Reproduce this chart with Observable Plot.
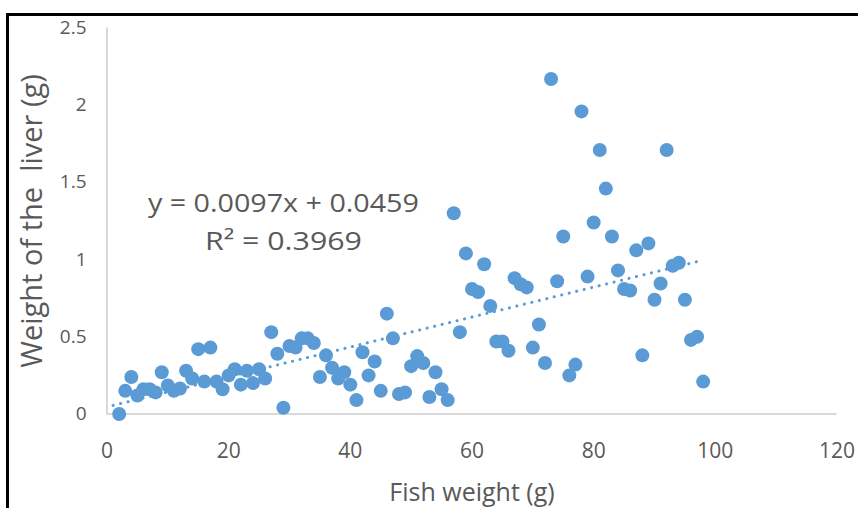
<!DOCTYPE html>
<html>
<head>
<meta charset="utf-8">
<script src="https://cdn.jsdelivr.net/npm/d3@7"></script>
<script src="https://cdn.jsdelivr.net/npm/@observablehq/plot@0.6"></script>
<style>
  html, body { margin: 0; padding: 0; background: #fff; overflow: hidden; }
  #wrap { position: relative; width: 858px; height: 508px; overflow: hidden; }
  #frame { position: absolute; left: 6px; top: 12.5px; width: 2000px; height: 2000px;
           border-left: 3px solid #000; border-top: 3px solid #000; pointer-events: none; }
  #chart { position: absolute; left: 0; top: 0; }
  svg text { font-family: "Open Sans", sans-serif; white-space: pre; }
  g[aria-label^="x-axis"] text { font-size: 21px; }
  g[aria-label^="y-axis"] text { font-size: 19px; }
</style>
</head>
<body>
<div id="wrap"><div id="chart"></div><div id="frame"></div></div>
<script>
// ---- data ----
const fishWeight = [
  2, 3, 4, 5, 6, 7, 8, 9, 10, 11, 12, 13, 14, 15, 16, 17, 18, 19, 20, 21,
  22, 23, 24, 25, 26, 27, 28, 29, 30, 31, 32, 33, 34, 35, 36, 37, 38, 39, 40, 41,
  42, 43, 44, 45, 46, 47, 48, 49, 50, 51, 52, 53, 54, 55, 56, 57, 58, 59, 60, 61,
  62, 63, 64, 65, 66, 67, 68, 69, 70, 71, 72, 73, 74, 75, 76, 77, 78, 79, 80, 81,
  82, 83, 84, 85, 86, 87, 88, 89, 90, 91, 92, 93, 94, 95, 96, 97, 98
];
const liverWeight = [
  0.00, 0.15, 0.24, 0.12, 0.16, 0.16, 0.14, 0.27, 0.185, 0.15, 0.165, 0.28, 0.23, 0.42, 0.21, 0.43, 0.21, 0.16, 0.25, 0.29,
  0.19, 0.28, 0.20, 0.29, 0.23, 0.53, 0.39, 0.04, 0.44, 0.43, 0.49, 0.49, 0.46, 0.24, 0.38, 0.30, 0.23, 0.27, 0.19, 0.09,
  0.40, 0.25, 0.34, 0.15, 0.65, 0.49, 0.13, 0.14, 0.31, 0.375, 0.33, 0.11, 0.27, 0.16, 0.09, 1.30, 0.53, 1.04, 0.81, 0.79,
  0.97, 0.70, 0.47, 0.47, 0.41, 0.88, 0.84, 0.82, 0.43, 0.58, 0.33, 2.17, 0.86, 1.15, 0.25, 0.32, 1.96, 0.89, 1.24, 1.71,
  1.46, 1.15, 0.93, 0.81, 0.80, 1.06, 0.38, 1.105, 0.74, 0.845, 1.71, 0.96, 0.98, 0.74, 0.48, 0.50, 0.21
];
const xTicks = [0, 20, 40, 60, 80, 100, 120];
const yTicks = [0, 0.5, 1, 1.5, 2, 2.5];
const trendSlope = 0.0097;
const trendIntercept = 0.0459;
const trendR2 = 0.3969;
const trendRange = [1, 98];
const xTitle = "Fish weight (g)";
const yTitle = "Weight of the  liver (g)";

// ---- derived tables ----
const points = fishWeight.map((x, i) => ({x, y: liverWeight[i]}));
const trend = trendRange.map(x => ({x, y: trendSlope * x + trendIntercept}));
const eqLine = `y = ${trendSlope}x + ${trendIntercept}`;
const r2Line = `R² = ${trendR2}`;

const blue = "#5b9bd5";
const grey = "#595959";

const chart = Plot.plot({
  width: 858,
  height: 508,
  marginLeft: 106.5,
  marginRight: 21.5,
  marginTop: 27.5,
  marginBottom: 94.5,
  style: {fontFamily: '"Open Sans", sans-serif', color: grey, background: "transparent", overflow: "visible"},
  x: {domain: [0, 120], ticks: xTicks, tickSize: 0, tickPadding: 29, label: null, tickFormat: d => String(d)},
  y: {domain: [0, 2.5], ticks: yTicks, tickSize: 0, tickPadding: 20.5, label: null, tickFormat: d => String(d)},
  marks: [
    Plot.ruleX([0], {stroke: "#d9d9d9", strokeWidth: 2}),
    Plot.ruleY([0], {stroke: "#d9d9d9", strokeWidth: 2}),
    Plot.dot(points, {x: "x", y: "y", r: 7, fill: blue}),
    Plot.line(trend, {x: "x", y: "y", stroke: blue, strokeWidth: 3, strokeDasharray: "0.1 7.6", strokeLinecap: "round"}),
    Plot.text([eqLine], {x: 29, y: 1.359, text: d => d, fontSize: 25, fill: grey, textAnchor: "middle", lineAnchor: "middle"}),
    Plot.text([r2Line], {x: 29, y: 1.115, text: d => d, fontSize: 25, fill: grey, textAnchor: "middle", lineAnchor: "middle"}),
    Plot.text([xTitle], {frameAnchor: "bottom", dy: 78.5, text: d => d, fontSize: 25, fill: grey, textAnchor: "middle", lineAnchor: "middle"}),
    Plot.text([yTitle], {frameAnchor: "left", dx: -74, rotate: -90, text: d => d, fontSize: 29, fill: grey, textAnchor: "middle", lineAnchor: "middle"})
  ]
});

// stretch the trendline label to the width it has in the reference
d3.select(chart).selectAll("text")
  .filter(function() { return this.textContent === eqLine; })
  .attr("textLength", 271).attr("lengthAdjust", "spacingAndGlyphs");
d3.select(chart).selectAll("text")
  .filter(function() { return this.textContent === r2Line; })
  .attr("textLength", 157).attr("lengthAdjust", "spacingAndGlyphs");

document.getElementById("chart").appendChild(chart);
</script>
</body>
</html>
